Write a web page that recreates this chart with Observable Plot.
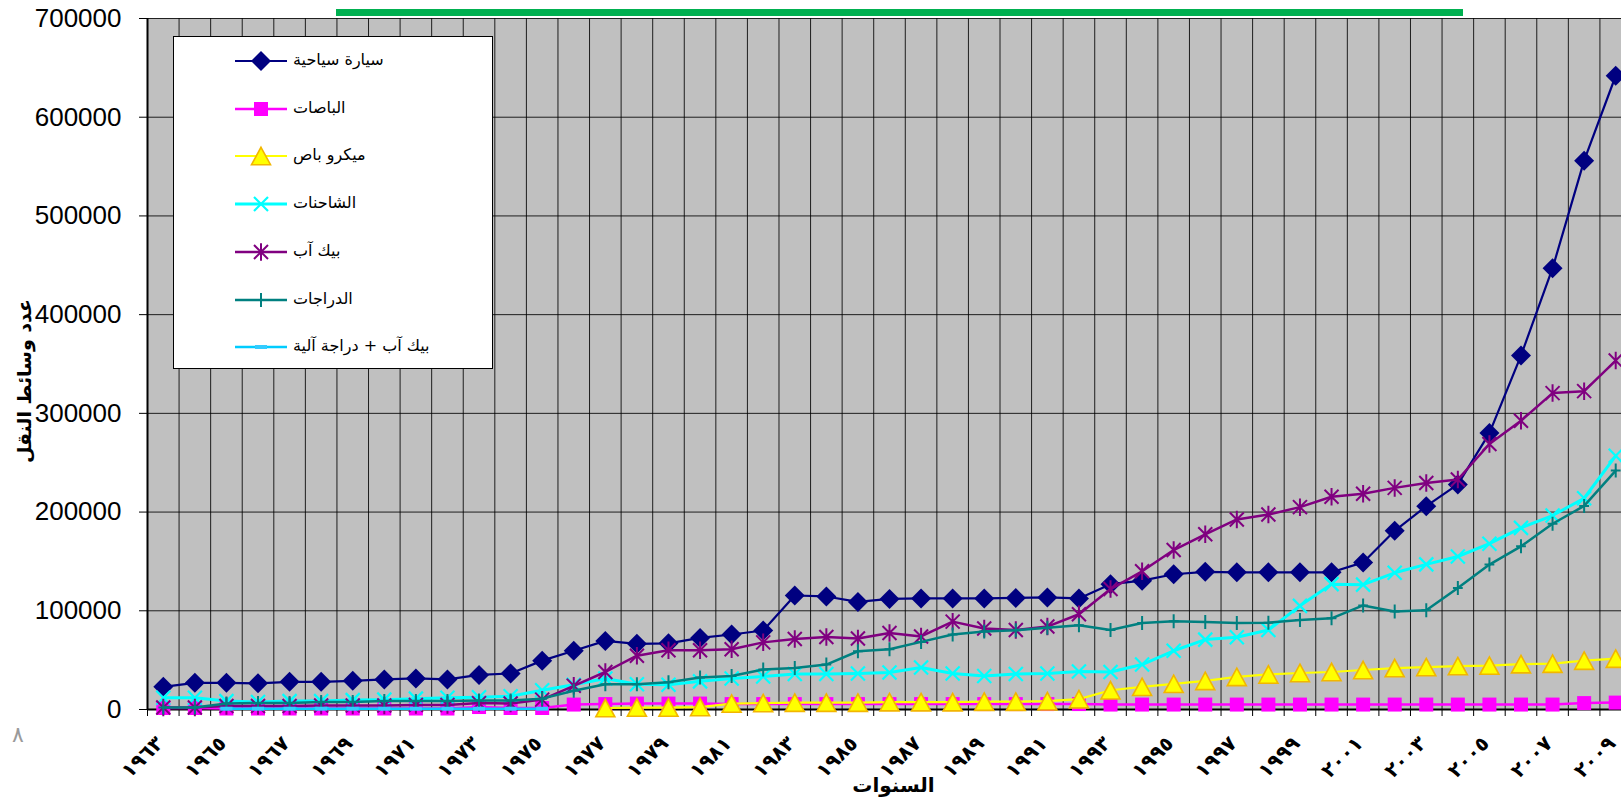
<!DOCTYPE html>
<html lang="ar">
<head>
<meta charset="utf-8">
<script src="https://cdn.jsdelivr.net/npm/d3@7"></script>
<script src="https://cdn.jsdelivr.net/npm/@observablehq/plot@0.6"></script>
<style>
  html, body { margin: 0; padding: 0; background: #fff; overflow: hidden; }
  #wrap { position: relative; width: 1621px; height: 800px; overflow: hidden; background: #fff; }
  #chart svg { display: block; overflow: hidden; }
  #titlebar { position: absolute; left: 336px; top: 9px; width: 1127px; height: 7px; background: #00B050; }
  #legend { position: absolute; left: 173px; top: 36px; width: 320px; height: 333px; background: #fff;
            border: 1px solid #000; box-sizing: border-box; }
  #legend .sw { position: absolute; left: 60px; }
  #legend .lab { position: absolute; left: 119px; direction: rtl; white-space: nowrap;
                 font-family: "DejaVu Sans", sans-serif; font-size: 16px; color: #000; line-height: 20px; }
  #pagenum { position: absolute; left: 12px; top: 722px; font-family: "DejaVu Sans", sans-serif;
             font-size: 22px; color: #9a9a9a; }
</style>
</head>
<body>
<div id="wrap">
  <div id="chart"></div>
  <div id="titlebar"></div>
  <div id="legend"></div>
  <div id="pagenum">٨</div>
</div>
<script>
// ---------------- data ----------------
const years = [1963,1964,1965,1966,1967,1968,1969,1970,1971,1972,
               1973,1974,1975,1976,1977,1978,1979,1980,1981,1982,
               1983,1984,1985,1986,1987,1988,1989,1990,1991,1992,
               1993,1994,1995,1996,1997,1998,1999,2000,2001,2002,
               2003,2004,2005,2006,2007,2008,2009];

const passengerCars = [23000,27000,27000,26500,28000,28000,29000,30500,31500,30500,
                       35000,36500,49500,59500,69500,66500,67000,72500,76000,80000,
                       115500,114500,109000,112000,112500,112500,112500,113000,113500,112500,
                       127000,130500,137000,139500,139000,139000,139000,139000,149000,181000,
                       206000,228000,280000,358500,447000,556000,642000];

const buses = [1500,1500,1000,1000,1000,1000,1000,1000,1000,1000,
               2500,1500,1500,5000,5500,6000,6000,6000,5500,5500,
               5500,5500,5500,5500,5500,5500,5500,5500,5500,5500,
               5000,5000,5000,5000,5000,5000,5000,5000,5000,5000,
               5000,5000,5000,5000,5000,6500,7000];

const microbuses = [null,null,null,null,null,null,null,null,null,null,
                    null,null,null,null,1500,2000,2000,2500,6000,6500,
                    7000,7000,7000,7500,7500,7500,8000,8000,8500,10500,
                    19500,23000,26000,29000,33000,35500,37000,38000,40000,42000,
                    43000,44000,44500,46000,46500,49500,51500];

const trucks = [12000,12000,8500,7500,8500,8500,9500,10000,11000,12000,
                12500,13500,19500,25000,31500,25500,25000,28500,31500,33500,
                36000,36000,36500,37500,42500,36500,34000,36000,36500,38500,
                38000,45500,59500,70800,73200,80500,105000,127000,126500,138500,
                147000,155000,168000,184000,196500,214000,257000];

const pickups = [2000,2000,3500,3500,3500,4000,4000,4000,4500,4500,
                 6500,6000,10000,24000,38000,54500,60000,60000,61000,68000,
                 71500,73500,72000,77500,74000,89000,82000,80500,84000,96500,
                 122000,140000,161500,177500,192500,197500,205000,215500,218500,224500,
                 229500,233000,269000,292500,320500,322500,353500];

const motorcycles = [2000,2000,6000,6500,6500,7500,7500,8500,8500,8500,
                     9000,9000,11000,19000,25500,25500,27700,32500,34000,40500,
                     42000,45500,59000,61000,68500,76000,79000,80300,82700,85300,
                     80500,87600,89300,88700,87600,88000,90700,92400,105400,99300,
                     100600,123100,146800,165300,188200,206200,242000];

const pickupsAndMotorcycles = [null,null,800,800,800,800,800,800,800,800,
                               800,800,800,null,null,null,null,null,null,null,
                               null,null,null,null,null,null,null,null,null,null,
                               null,null,null,null,null,null,null,null,null,null,
                               null,null,null,null,null,null,null];

const seriesNames = ["سيارة سياحية", "الباصات", "ميكرو باص", "الشاحنات", "بيك آب", "الدراجات", "بيك آب + دراجة آلية"];
const seriesValues = [passengerCars, buses, microbuses, trucks, pickups, motorcycles, pickupsAndMotorcycles];

const yTicks = [0, 100000, 200000, 300000, 400000, 500000, 600000, 700000];
const xTickYears = [1963,1965,1967,1969,1971,1973,1975,1977,1979,1981,1983,1985,
                    1987,1989,1991,1993,1995,1997,1999,2001,2003,2005,2007,2009];
const xTickLabels = ["١٩٦٣","١٩٦٥","١٩٦٧","١٩٦٩","١٩٧١","١٩٧٣","١٩٧٥","١٩٧٧","١٩٧٩","١٩٨١","١٩٨٣","١٩٨٥",
                     "١٩٨٧","١٩٨٩","١٩٩١","١٩٩٣","١٩٩٥","١٩٩٧","١٩٩٩","٢٠٠١","٢٠٠٣","٢٠٠٥","٢٠٠٧","٢٠٠٩"];
const yTitle = "عدد وسائط النقل";
const xTitle = "السنوات";

// ---------------- styles ----------------
function mk(fn) { return { draw(ctx, size) { fn(ctx, Math.sqrt(size / Math.PI)); } }; }
const SYM = {
  diamond: mk((c, r) => { c.moveTo(0, -r); c.lineTo(r, 0); c.lineTo(0, r); c.lineTo(-r, 0); c.closePath(); }),
  square: mk((c, r) => { c.rect(-r, -r, 2 * r, 2 * r); }),
  triangle: mk((c, r) => { const h = r * 0.92; c.moveTo(0, -h); c.lineTo(r, h); c.lineTo(-r, h); c.closePath(); }),
  times: mk((c, r) => { c.moveTo(-r, -r); c.lineTo(r, r); c.moveTo(r, -r); c.lineTo(-r, r); }),
  asterisk: mk((c, r) => { c.moveTo(-r, -r); c.lineTo(r, r); c.moveTo(r, -r); c.lineTo(-r, r); c.moveTo(0, -r * 1.25); c.lineTo(0, r * 1.25); }),
  plus: mk((c, r) => { c.moveTo(0, -r); c.lineTo(0, r); c.moveTo(-r * 0.7, 0); c.lineTo(r * 0.7, 0); }),
  dash: mk((c, r) => { c.rect(-r, -r * 0.33, 2 * r, r * 0.66); })
};
const styles = [
  {line: "#000080", sym: "diamond",  r: 10,  fill: "#000080", stroke: "none",    sw: 0,   lw: 2.2},
  {line: "#FF00FF", sym: "square",   r: 7,   fill: "#FF00FF", stroke: "none",    sw: 0,   lw: 2.5},
  {line: "#FFFF00", sym: "triangle", r: 9.5, fill: "#FFFF00", stroke: "#F2B600", sw: 1.6, lw: 2.2},
  {line: "#00FFFF", sym: "times",    r: 7,   fill: "none",    stroke: "#00FFFF", sw: 2.2, lw: 3},
  {line: "#800080", sym: "asterisk", r: 7,   fill: "none",    stroke: "#800080", sw: 2,   lw: 2.5},
  {line: "#008080", sym: "plus",     r: 7,   fill: "none",    stroke: "#008080", sw: 2,   lw: 2.5},
  {line: "#00CCFF", sym: "dash",     r: 6,   fill: "#33CCFF", stroke: "none",    sw: 0,   lw: 2.5}
];

// ---------------- build ----------------
const tables = seriesValues.map(vals => years.map((yr, i) => ({year: yr, value: vals[i]})));
const boundaries = years.map(y => y - 0.5).concat([years[years.length - 1] + 0.5]);

const seriesMarks = [];
tables.forEach((t, k) => {
  const s = styles[k];
  seriesMarks.push(Plot.line(t, {x: "year", y: "value", stroke: s.line, strokeWidth: s.lw, curve: "linear"}));
  seriesMarks.push(Plot.dot(t.filter(d => d.value != null), {
    x: "year", y: "value", symbol: SYM[s.sym], r: s.r,
    fill: s.fill, stroke: s.stroke, strokeWidth: s.sw
  }));
});

const chart = Plot.plot({
  width: 1621,
  height: 800,
  marginLeft: 147,
  marginTop: 18,
  marginBottom: 91,
  marginRight: -10,
  x: {domain: [years[0] - 0.5, years[years.length - 1] + 0.5], axis: null},
  y: {domain: [0, 700000], axis: null},
  style: {background: "transparent", fontFamily: "Liberation Sans, Arial, sans-serif", overflow: "hidden"},
  marks: [
    Plot.frame({fill: "#C0C0C0", stroke: null}),
    Plot.ruleX(boundaries, {stroke: "#000", strokeWidth: 1, strokeOpacity: 0.85}),
    Plot.ruleY(yTicks, {stroke: "#000", strokeWidth: 1, strokeOpacity: 0.85}),
    Plot.axisY({ticks: yTicks, tickSize: 8, tickPadding: 18, tickFormat: d => String(d),
                fontSize: 26, label: null, stroke: "#000"}),
    Plot.axisX({ticks: boundaries, tickSize: 7, tickFormat: () => "", label: null, stroke: "#000"}),
    Plot.ruleX([years[0] - 0.5], {stroke: "#000", strokeWidth: 2}),
    Plot.ruleY([0], {stroke: "#000", strokeWidth: 2}),
    ...seriesMarks,
    Plot.text(xTickYears, {x: d => d, y: () => 0, text: (d, i) => xTickLabels[i], rotate: -45,
      textAnchor: "end", lineAnchor: "bottom", dx: 1, dy: 35, fontSize: 20, fontWeight: "bold",
      fontFamily: "DejaVu Sans, sans-serif", fill: "#000"}),
    Plot.text([yTitle], {text: d => d, frameAnchor: "left", dx: -123, dy: 17, rotate: -90,
      textAnchor: "middle", lineAnchor: "middle", fontSize: 19, fontWeight: "bold",
      fontFamily: "DejaVu Sans, sans-serif", fill: "#000"}),
    Plot.text([xTitle], {text: d => d, frameAnchor: "bottom", dx: 4, dy: 76,
      textAnchor: "middle", lineAnchor: "middle", fontSize: 20, fontWeight: "bold",
      fontFamily: "DejaVu Sans, sans-serif", fill: "#000"})
  ]
});
document.getElementById("chart").appendChild(chart);

// ---------------- legend ----------------
const legend = document.getElementById("legend");
seriesNames.forEach((name, k) => {
  const s = styles[k];
  const cy = 24 + k * 47.7;
  const svg = d3.create("svg").attr("class", "sw").attr("width", 54).attr("height", 24)
    .style("top", (cy - 12) + "px");
  svg.append("line").attr("x1", 1).attr("x2", 53).attr("y1", 12).attr("y2", 12)
    .attr("stroke", s.line).attr("stroke-width", s.lw);
  svg.append("path").attr("transform", "translate(27,12)")
    .attr("d", d3.symbol(SYM[s.sym], s.r * s.r * Math.PI)())
    .attr("fill", s.fill).attr("stroke", s.stroke).attr("stroke-width", s.sw);
  legend.appendChild(svg.node());
  const lab = document.createElement("div");
  lab.className = "lab";
  lab.style.top = (cy - 11) + "px";
  lab.textContent = name;
  legend.appendChild(lab);
});
</script>
</body>
</html>
